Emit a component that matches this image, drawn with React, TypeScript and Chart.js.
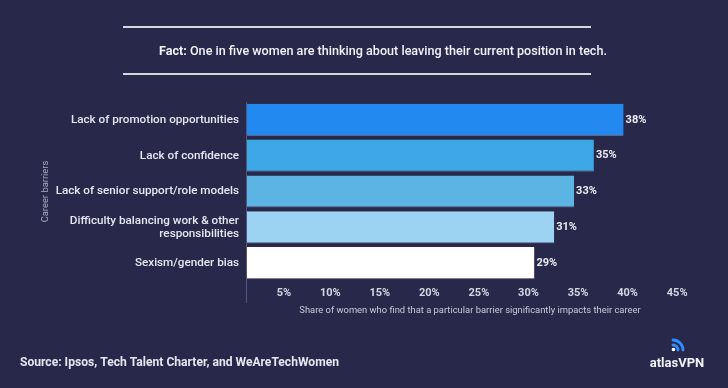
import React, { useEffect, useRef } from "react";
import { Chart, registerables } from "chart.js";

Chart.register(...registerables);

const categories: (string | string[])[] = [
  "Lack of promotion opportunities",
  "Lack of confidence",
  "Lack of senior support/role models",
  ["Difficulty balancing work & other", "responsibilities"],
  "Sexism/gender bias",
];
const values = [38, 35, 33, 31, 29];
const barColors = ["#2189F0", "#3CA8E6", "#5CB4E4", "#9CD2F2", "#FFFFFF"];
const xTicks = [0, 5, 10, 15, 20, 25, 30, 35, 40, 45];
const titleBold = "Fact:";
const titleRest = " One in five women are thinking about leaving their current position in tech.";
const yTitle = "Career barriers";
const xTitle = "Share of women who find that a particular barrier significantly impacts their career";
const sourceText = "Source: Ipsos, Tech Talent Charter, and WeAreTechWomen";
const brand = "atlasVPN";

const BG = "#28294A";
const FONT = "Roboto, 'Noto Sans', sans-serif";

const decorPlugin = {
  id: "decor",
  beforeDraw(chart: any) {
    const { ctx, width, height } = chart;
    ctx.save();
    ctx.fillStyle = BG;
    ctx.fillRect(0, 0, width, height);
    ctx.restore();
  },
  afterDraw(chart: any) {
    const { ctx, chartArea } = chart;
    ctx.save();
    // header rules
    ctx.strokeStyle = "#D6D7E4";
    ctx.lineWidth = 2;
    ctx.beginPath();
    ctx.moveTo(123, 27);
    ctx.lineTo(591, 27);
    ctx.moveTo(123, 74);
    ctx.lineTo(591, 74);
    ctx.stroke();
    // header text
    ctx.textBaseline = "middle";
    ctx.textAlign = "left";
    ctx.fillStyle = "#F2F2F8";
    ctx.font = `bold 12.6px ${FONT}`;
    ctx.fillText(titleBold, 159, 52);
    const w = ctx.measureText(titleBold).width;
    ctx.font = `500 12.6px ${FONT}`;
    ctx.fillText(titleRest, 159 + w, 52);

    // y axis line
    ctx.strokeStyle = "#55577A";
    ctx.lineWidth = 1;
    ctx.beginPath();
    ctx.moveTo(chartArea.left - 0.5, chartArea.top);
    ctx.lineTo(chartArea.left - 0.5, chartArea.bottom + 22);
    ctx.stroke();

    // y title
    ctx.save();
    ctx.translate(46, (chartArea.top + chartArea.bottom) / 2);
    ctx.rotate(-Math.PI / 2);
    ctx.textAlign = "center";
    ctx.fillStyle = "#A9AAC2";
    ctx.font = `9.4px ${FONT}`;
    ctx.fillText(yTitle, 0, 0);
    ctx.restore();

    // x title
    ctx.textAlign = "center";
    ctx.fillStyle = "#C9CADB";
    ctx.font = `9.4px ${FONT}`;
    ctx.fillText(xTitle, (chartArea.left + chartArea.right) / 2, 311);

    // data labels
    const meta = chart.getDatasetMeta(0);
    ctx.textAlign = "left";
    ctx.fillStyle = "#ECECF4";
    ctx.font = `bold 11px ${FONT}`;
    meta.data.forEach((bar: any, i: number) => {
      ctx.fillText(values[i] + "%", bar.x + 2, bar.y);
    });

    // source
    ctx.fillStyle = "#E6E6F0";
    ctx.font = `bold 12.1px ${FONT}`;
    ctx.fillText(sourceText, 20, 363);

    // logo icon
    const cx = 673, cy = 350;
    ctx.strokeStyle = "#2F8DFF";
    ctx.lineWidth = 2.8;
    ctx.lineCap = "round";
    ctx.beginPath();
    ctx.arc(cx, cy, 5, -Math.PI / 2, 0);
    ctx.stroke();
    ctx.beginPath();
    ctx.arc(cx, cy, 10, -Math.PI / 2, 0);
    ctx.stroke();
    ctx.fillStyle = "#FFFFFF";
    ctx.beginPath();
    ctx.arc(cx + 0.5, cy - 0.5, 1.8, 0, Math.PI * 2);
    ctx.fill();
    ctx.fillStyle = "#F2F2F8";
    ctx.textAlign = "center";
    ctx.font = `bold 13px ${FONT}`;
    ctx.fillText(brand, 677, 364);
    ctx.restore();
  },
};

export default function App() {
  const ref = useRef<HTMLCanvasElement>(null);
  useEffect(() => {
    document.body.style.margin = "0";
    const chart = new Chart(ref.current!, {
      type: "bar",
      data: {
        labels: categories,
        datasets: [
          {
            data: values,
            backgroundColor: barColors,
            borderColor: "rgba(120,122,150,0.7)",
            borderWidth: { top: 0, left: 0, right: 0, bottom: 1 },
            borderSkipped: false,
            barPercentage: 0.9,
            categoryPercentage: 1,
          },
        ],
      },
      options: {
        indexAxis: "y",
        responsive: false,
        animation: false,
        devicePixelRatio: 1,
        layout: { padding: { top: 102, right: 35, left: 0, bottom: 0 } },
        plugins: { legend: { display: false }, tooltip: { enabled: false }, title: { display: false } },
        scales: {
          x: {
            min: 0,
            max: 45,
            afterBuildTicks: (s: any) => {
              s.ticks = xTicks.map((v) => ({ value: v }));
            },
            afterFit: (s: any) => {
              s.height = 107;
            },
            grid: { display: false, drawTicks: false },
            border: { display: false },
            ticks: {
              padding: 6,
              align: "end",
              color: "#D6D7E4",
              font: { family: FONT, size: 11, weight: "bold" },
              callback: (v: any) => (v === 0 ? "" : v + "%  "),
            },
          },
          y: {
            afterFit: (s: any) => {
              s.width = 247;
            },
            grid: { display: false, drawTicks: false },
            border: { display: false },
            ticks: {
              padding: 8,
              color: "#E6E6F0",
              font: { family: FONT, size: 11.7, weight: "500", lineHeight: 1.1 },
            },
          },
        },
      },
      plugins: [decorPlugin],
    });
    return () => chart.destroy();
  }, []);
  return (
    <div style={{ position: "absolute", left: 0, top: 0, width: 728, height: 388, background: BG }}>
      <canvas ref={ref} width={728} height={388} style={{ display: "block" }} />
    </div>
  );
}
